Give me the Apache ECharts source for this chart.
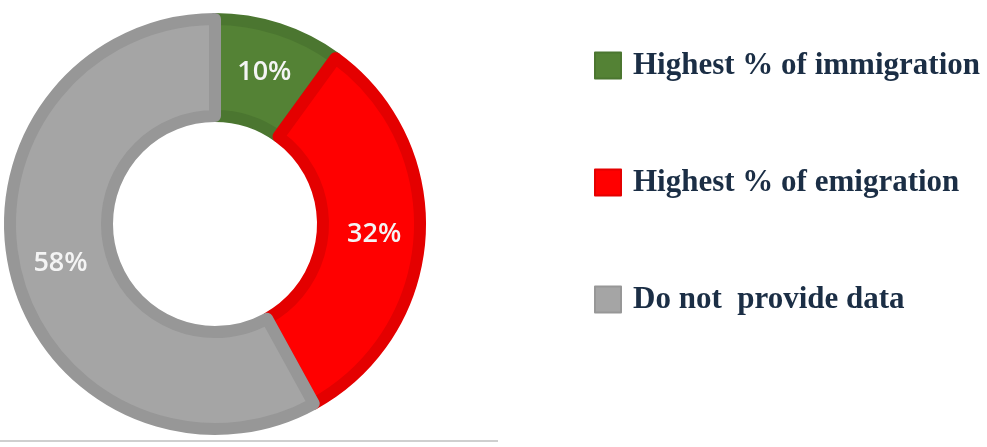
<!DOCTYPE html>
<html>
<head>
<meta charset="utf-8">
<script src="https://cdn.jsdelivr.net/npm/echarts@6/dist/echarts.min.js"></script>
<style>
  html, body { margin: 0; padding: 0; background: #fff; }
  #chart { width: 987px; height: 447px; }
</style>
</head>
<body>
<div id="chart"></div>
<script>
const categories = ['Highest % of immigration', 'Highest % of emigration', 'Do not  provide data']
const shares = [10, 32, 58]

const fillColors = ['#548235', '#ff0000', '#a5a5a5']
const edgeColors = ['#4b7630', '#e40000', '#979797']

const chart = echarts.init(document.getElementById('chart'))

const option = {
  animation: false,
  legend: {
    orient: 'vertical',
    left: 589,
    top: 45,
    itemWidth: 26,
    itemHeight: 26,
    itemGap: 86,
    icon: 'rect',
    data: categories,
    textStyle: {
      color: '#1b2e45',
      fontFamily: 'Liberation Serif',
      fontWeight: 'bold',
      fontSize: 31,
      lineHeight: 31,
      padding: [0, 0, 0, 7]
    }
  },
  series: [
    {
      type: 'pie',
      center: [215, 224],
      radius: [108, 205],
      startAngle: 90,
      clockwise: true,
      label: {
        show: true,
        position: 'inside',
        color: '#f4f4f4',
        fontFamily: 'Open Sans',
        fontWeight: 600,
        fontSize: 27,
        formatter: '{c}%'
      },
      labelLine: { show: false },
      emphasis: { disabled: true },
      data: categories.map((name, i) => ({
        name: name,
        value: shares[i],
        itemStyle: {
          color: fillColors[i],
          borderColor: edgeColors[i],
          borderWidth: 12
        }
      }))
    }
  ],
  graphic: [
    {
      type: 'line',
      shape: { x1: 0, y1: 441, x2: 498, y2: 441 },
      style: { stroke: '#cfcfcf', lineWidth: 2 }
    }
  ]
}

chart.setOption(option)
</script>
</body>
</html>
